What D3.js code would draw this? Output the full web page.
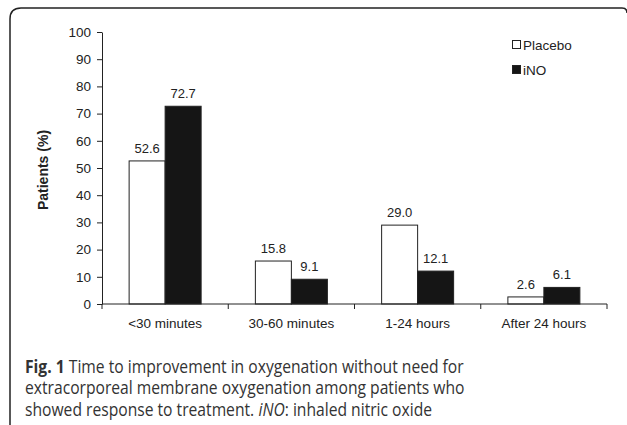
<!DOCTYPE html>
<html lang="en">
<head>
    <meta charset="UTF-8">
    <title>Time to improvement in oxygenation</title>
    <style>
        body { margin: 0; background: #fff; }
        .axis text { font: 13.5px "Liberation Sans", Arial, sans-serif; fill: #222; }
        .axis path, .axis line { stroke: #222; }
        .caption { font-family: "Open Sans", sans-serif; font-size: 18.5px; fill: #333; }
    </style>
</head>
<body>
    <svg width="627" height="425"></svg>
    <script src="https://cdn.jsdelivr.net/npm/d3@7"></script>
    <script>
        var categories = ["<30 minutes", "30-60 minutes", "1-24 hours", "After 24 hours"];
        var placebo = [52.6, 15.8, 29.0, 2.6];
        var ino = [72.7, 9.1, 12.1, 6.1];
        var seriesNames = ["Placebo", "iNO"];
        var yTicks = [0, 10, 20, 30, 40, 50, 60, 70, 80, 90, 100];

        var svg = d3.select("svg");

        // frame round the figure, open at the bottom and right
        svg.append("path")
            .attr("d", "M10,425 L10,19 Q10,8 21,8 L622,8 Q627,8 627,13")
            .attr("fill", "none")
            .attr("stroke", "#222")
            .attr("stroke-width", 1.5);

        var x = d3.scaleBand().domain(categories).range([102, 607]);
        var x1 = d3.scaleBand().domain(seriesNames).range([0, 72]);
        var y = d3.scaleLinear().domain([0, 100]).range([304, 32]);

        var data = categories.map(function(c, i){ return {cat: c, values: [placebo[i], ino[i]]}; });
        var fills = ["#fff", "#151515"];

        var groups = svg.selectAll(".grp")
            .data(data)
            .enter().append("g")
            .attr("class", "grp")
            .attr("transform", function(d){ return "translate(" + (x(d.cat) + (x.bandwidth() - 72) / 2) + ",0)"; });

        groups.selectAll("rect")
            .data(function(d){ return d.values; })
            .enter().append("rect")
                .attr("x", function(d, i){ return x1(seriesNames[i]); })
                .attr("y", function(d){ return y(d); })
                .attr("width", x1.bandwidth())
                .attr("height", function(d){ return y(0) - y(d); })
                .attr("fill", function(d, i){ return fills[i]; })
                .attr("stroke", "#222")
                .attr("stroke-width", 1);

        groups.selectAll(".val")
            .data(function(d){ return d.values; })
            .enter().append("text")
                .attr("class", "val")
                .attr("x", function(d, i){ return x1(seriesNames[i]) + x1.bandwidth() / 2; })
                .attr("y", function(d){ return y(d) - 8; })
                .attr("text-anchor", "middle")
                .style("font", "13px 'Liberation Sans', Arial, sans-serif")
                .attr("fill", "#222")
                .text(function(d){ return d.toFixed(1); });

        // y axis
        svg.append("g")
            .attr("class", "axis")
            .attr("transform", "translate(102,0)")
            .call(d3.axisLeft(y).tickValues(yTicks).tickSize(5).tickSizeOuter(0).tickPadding(6));

        // x axis: ticks at band edges
        var xAxis = svg.append("g")
            .attr("class", "axis")
            .attr("transform", "translate(0,304)");
        xAxis.append("line").attr("x1", 102).attr("x2", 607).attr("stroke", "#222");
        var edges = categories.map(function(c){ return x(c); }).concat([x.range()[1]]);
        xAxis.selectAll(".edge")
            .data(edges)
            .enter().append("line")
                .attr("x1", function(d){ return d; })
                .attr("x2", function(d){ return d; })
                .attr("y2", 5)
                .attr("stroke", "#222");
        xAxis.selectAll(".lbl")
            .data(categories)
            .enter().append("text")
                .attr("x", function(d){ return x(d) + x.bandwidth() / 2; })
                .attr("y", 24)
                .attr("text-anchor", "middle")
                .text(function(d){ return d; });

        svg.append("text")
            .attr("transform", "translate(48,170) rotate(-90)")
            .attr("text-anchor", "middle")
            .style("font", "bold 14px 'Liberation Sans', Arial, sans-serif")
            .attr("fill", "#222")
            .text("Patients (%)");

        // legend
        var legend = svg.selectAll(".legend")
            .data(seriesNames)
            .enter().append("g")
            .attr("class", "legend")
            .attr("transform", function(d, i){ return "translate(512," + (45 + i * 25) + ")"; });
        legend.append("rect")
            .attr("x", 0.5).attr("y", -4.5)
            .attr("width", 8).attr("height", 8)
            .attr("fill", function(d, i){ return fills[i]; })
            .attr("stroke", "#222");
        legend.append("text")
            .attr("x", 11)
            .attr("dy", "0.35em")
            .style("font", "13.5px 'Liberation Sans', Arial, sans-serif")
            .attr("fill", "#222")
            .text(function(d){ return d; });

        // caption: each styled run is its own text, squeezed to the narrow face of the original
        var capLines = [
            [["Fig. 1", "bold"], [" Time to improvement in oxygenation without need for", ""]],
            [["extracorporeal membrane oxygenation among patients who", ""]],
            [["showed response to treatment. ", ""], ["iNO", "italic"], [": inhaled nitric oxide", ""]]
        ];
        var cap = svg.append("g");
        var capWidth = 0;
        capLines.forEach(function(line, li){
            var cx = 0;
            line.forEach(function(run){
                var t = cap.append("text")
                    .attr("class", "caption")
                    .attr("x", cx)
                    .attr("y", 373 + li * 21.5)
                    .style("white-space", "pre")
                    .text(run[0]);
                if (run[1] == "bold") t.attr("font-weight", "bold");
                if (run[1] == "italic") t.attr("font-style", "italic");
                cx += t.node().getComputedTextLength();
            });
            if (li == 0) capWidth = cx;
        });
        var sx = 439 / capWidth;
        cap.attr("transform", "translate(25,0) scale(" + sx + ",1)");
    </script>
</body>
</html>
